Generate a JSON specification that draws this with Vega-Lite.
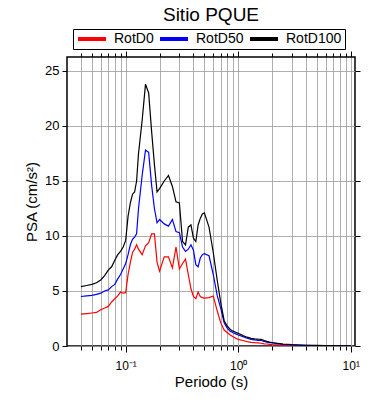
{
  "$schema": "https://vega.github.io/schema/vega-lite/v6.json",
  "autosize": "none",
  "width": 288,
  "height": 289,
  "padding": {"left": 67, "top": 57, "right": 35, "bottom": 54},
  "config": {
    "font": "Liberation Sans",
    "view": {"stroke": "black", "strokeWidth": 1.5},
    "axis": {"domain": false, "tickColor": "black", "labelColor": "black", "titleColor": "black", "gridColor": "#9a9a9a", "gridWidth": 0.8, "labelFont": "Liberation Sans", "titleFont": "Liberation Sans", "titleFontWeight": "normal"}
  },
  "title": {"text": "Sitio PQUE", "fontSize": 19, "fontWeight": "normal", "font": "Liberation Sans", "color": "black", "frame": "group", "anchor": "middle", "baseline": "alphabetic", "offset": -11},
  "data": {"values": [
    {"T":0.04,"s":"RotD0","v":2.9},{"T":0.045,"s":"RotD0","v":2.95},{"T":0.05,"s":"RotD0","v":3.0},{"T":0.055,"s":"RotD0","v":3.05},{"T":0.06,"s":"RotD0","v":3.3},{"T":0.065,"s":"RotD0","v":3.45},{"T":0.07,"s":"RotD0","v":3.6},{"T":0.075,"s":"RotD0","v":4.0},{"T":0.08,"s":"RotD0","v":4.3},{"T":0.085,"s":"RotD0","v":4.55},{"T":0.09,"s":"RotD0","v":4.9},{"T":0.095,"s":"RotD0","v":4.8},{"T":0.1,"s":"RotD0","v":4.85},{"T":0.105,"s":"RotD0","v":6.5},{"T":0.11,"s":"RotD0","v":7.6},{"T":0.115,"s":"RotD0","v":8.5},{"T":0.12,"s":"RotD0","v":8.8},{"T":0.125,"s":"RotD0","v":9.2},{"T":0.13,"s":"RotD0","v":8.8},{"T":0.14,"s":"RotD0","v":8.3},{"T":0.15,"s":"RotD0","v":9.1},{"T":0.16,"s":"RotD0","v":9.4},{"T":0.17,"s":"RotD0","v":10.2},{"T":0.18,"s":"RotD0","v":10.2},{"T":0.19,"s":"RotD0","v":7.6},{"T":0.2,"s":"RotD0","v":6.8},{"T":0.22,"s":"RotD0","v":8.1},{"T":0.24,"s":"RotD0","v":8.1},{"T":0.26,"s":"RotD0","v":7.1},{"T":0.28,"s":"RotD0","v":9.0},{"T":0.3,"s":"RotD0","v":7.0},{"T":0.32,"s":"RotD0","v":7.5},{"T":0.34,"s":"RotD0","v":7.9},{"T":0.36,"s":"RotD0","v":6.5},{"T":0.38,"s":"RotD0","v":5.2},{"T":0.4,"s":"RotD0","v":4.5},{"T":0.42,"s":"RotD0","v":4.3},{"T":0.44,"s":"RotD0","v":4.9},{"T":0.46,"s":"RotD0","v":4.5},{"T":0.48,"s":"RotD0","v":4.4},{"T":0.5,"s":"RotD0","v":4.35},{"T":0.55,"s":"RotD0","v":4.4},{"T":0.6,"s":"RotD0","v":4.55},{"T":0.65,"s":"RotD0","v":3.2},{"T":0.7,"s":"RotD0","v":2.1},{"T":0.75,"s":"RotD0","v":1.45},{"T":0.8,"s":"RotD0","v":1.2},{"T":0.85,"s":"RotD0","v":1.0},{"T":0.9,"s":"RotD0","v":0.85},{"T":0.95,"s":"RotD0","v":0.7},{"T":1.0,"s":"RotD0","v":0.6},{"T":1.1,"s":"RotD0","v":0.5},{"T":1.2,"s":"RotD0","v":0.4},{"T":1.3,"s":"RotD0","v":0.33},{"T":1.4,"s":"RotD0","v":0.3},{"T":1.5,"s":"RotD0","v":0.28},{"T":1.6,"s":"RotD0","v":0.25},{"T":1.7,"s":"RotD0","v":0.2},{"T":1.8,"s":"RotD0","v":0.18},{"T":1.9,"s":"RotD0","v":0.15},{"T":2.0,"s":"RotD0","v":0.13},{"T":2.5,"s":"RotD0","v":0.08},{"T":3.0,"s":"RotD0","v":0.05},{"T":3.5,"s":"RotD0","v":0.04},{"T":4.0,"s":"RotD0","v":0.03},{"T":5.0,"s":"RotD0","v":0.02},{"T":6.0,"s":"RotD0","v":0.015},{"T":7.0,"s":"RotD0","v":0.015},{"T":8.0,"s":"RotD0","v":0.012},{"T":9.0,"s":"RotD0","v":0.01},{"T":10.0,"s":"RotD0","v":0.01},
    {"T":0.04,"s":"RotD50","v":4.5},{"T":0.045,"s":"RotD50","v":4.55},{"T":0.05,"s":"RotD50","v":4.6},{"T":0.055,"s":"RotD50","v":4.7},{"T":0.06,"s":"RotD50","v":4.8},{"T":0.065,"s":"RotD50","v":5.0},{"T":0.07,"s":"RotD50","v":5.1},{"T":0.075,"s":"RotD50","v":5.4},{"T":0.08,"s":"RotD50","v":5.6},{"T":0.085,"s":"RotD50","v":6.1},{"T":0.09,"s":"RotD50","v":6.5},{"T":0.095,"s":"RotD50","v":7.0},{"T":0.1,"s":"RotD50","v":7.5},{"T":0.105,"s":"RotD50","v":8.3},{"T":0.11,"s":"RotD50","v":9.2},{"T":0.115,"s":"RotD50","v":9.7},{"T":0.12,"s":"RotD50","v":9.9},{"T":0.125,"s":"RotD50","v":10.2},{"T":0.13,"s":"RotD50","v":12.5},{"T":0.14,"s":"RotD50","v":15.5},{"T":0.15,"s":"RotD50","v":17.8},{"T":0.16,"s":"RotD50","v":17.6},{"T":0.17,"s":"RotD50","v":14.6},{"T":0.18,"s":"RotD50","v":12.5},{"T":0.19,"s":"RotD50","v":11.2},{"T":0.2,"s":"RotD50","v":11.5},{"T":0.22,"s":"RotD50","v":11.1},{"T":0.24,"s":"RotD50","v":10.9},{"T":0.26,"s":"RotD50","v":11.5},{"T":0.28,"s":"RotD50","v":10.4},{"T":0.3,"s":"RotD50","v":10.3},{"T":0.32,"s":"RotD50","v":9.0},{"T":0.34,"s":"RotD50","v":8.6},{"T":0.36,"s":"RotD50","v":8.8},{"T":0.38,"s":"RotD50","v":9.2},{"T":0.4,"s":"RotD50","v":8.7},{"T":0.42,"s":"RotD50","v":7.4},{"T":0.44,"s":"RotD50","v":7.2},{"T":0.46,"s":"RotD50","v":8.0},{"T":0.48,"s":"RotD50","v":8.3},{"T":0.5,"s":"RotD50","v":8.4},{"T":0.55,"s":"RotD50","v":8.2},{"T":0.6,"s":"RotD50","v":6.5},{"T":0.65,"s":"RotD50","v":4.6},{"T":0.7,"s":"RotD50","v":3.4},{"T":0.75,"s":"RotD50","v":2.1},{"T":0.8,"s":"RotD50","v":1.6},{"T":0.85,"s":"RotD50","v":1.35},{"T":0.9,"s":"RotD50","v":1.2},{"T":0.95,"s":"RotD50","v":1.1},{"T":1.0,"s":"RotD50","v":1.0},{"T":1.1,"s":"RotD50","v":0.85},{"T":1.2,"s":"RotD50","v":0.7},{"T":1.3,"s":"RotD50","v":0.6},{"T":1.4,"s":"RotD50","v":0.55},{"T":1.5,"s":"RotD50","v":0.52},{"T":1.6,"s":"RotD50","v":0.5},{"T":1.7,"s":"RotD50","v":0.42},{"T":1.8,"s":"RotD50","v":0.35},{"T":1.9,"s":"RotD50","v":0.3},{"T":2.0,"s":"RotD50","v":0.27},{"T":2.5,"s":"RotD50","v":0.15},{"T":3.0,"s":"RotD50","v":0.1},{"T":3.5,"s":"RotD50","v":0.075},{"T":4.0,"s":"RotD50","v":0.06},{"T":5.0,"s":"RotD50","v":0.04},{"T":6.0,"s":"RotD50","v":0.03},{"T":7.0,"s":"RotD50","v":0.025},{"T":8.0,"s":"RotD50","v":0.02},{"T":9.0,"s":"RotD50","v":0.015},{"T":10.0,"s":"RotD50","v":0.015},
    {"T":0.04,"s":"RotD100","v":5.4},{"T":0.045,"s":"RotD100","v":5.5},{"T":0.05,"s":"RotD100","v":5.6},{"T":0.055,"s":"RotD100","v":5.75},{"T":0.06,"s":"RotD100","v":6.0},{"T":0.065,"s":"RotD100","v":6.4},{"T":0.07,"s":"RotD100","v":6.9},{"T":0.075,"s":"RotD100","v":7.2},{"T":0.08,"s":"RotD100","v":7.8},{"T":0.085,"s":"RotD100","v":8.3},{"T":0.09,"s":"RotD100","v":8.6},{"T":0.095,"s":"RotD100","v":9.0},{"T":0.1,"s":"RotD100","v":9.6},{"T":0.105,"s":"RotD100","v":11.8},{"T":0.11,"s":"RotD100","v":13.0},{"T":0.115,"s":"RotD100","v":13.8},{"T":0.12,"s":"RotD100","v":14.0},{"T":0.125,"s":"RotD100","v":15.0},{"T":0.13,"s":"RotD100","v":17.5},{"T":0.14,"s":"RotD100","v":20.5},{"T":0.15,"s":"RotD100","v":23.8},{"T":0.16,"s":"RotD100","v":23.0},{"T":0.17,"s":"RotD100","v":19.5},{"T":0.18,"s":"RotD100","v":16.5},{"T":0.19,"s":"RotD100","v":14.0},{"T":0.2,"s":"RotD100","v":14.3},{"T":0.22,"s":"RotD100","v":15.0},{"T":0.24,"s":"RotD100","v":15.5},{"T":0.26,"s":"RotD100","v":14.5},{"T":0.28,"s":"RotD100","v":13.1},{"T":0.3,"s":"RotD100","v":13.0},{"T":0.32,"s":"RotD100","v":9.5},{"T":0.34,"s":"RotD100","v":9.2},{"T":0.36,"s":"RotD100","v":10.8},{"T":0.38,"s":"RotD100","v":11.0},{"T":0.4,"s":"RotD100","v":9.8},{"T":0.42,"s":"RotD100","v":9.5},{"T":0.44,"s":"RotD100","v":11.0},{"T":0.46,"s":"RotD100","v":11.6},{"T":0.48,"s":"RotD100","v":12.0},{"T":0.5,"s":"RotD100","v":12.1},{"T":0.55,"s":"RotD100","v":10.8},{"T":0.6,"s":"RotD100","v":8.5},{"T":0.65,"s":"RotD100","v":6.0},{"T":0.7,"s":"RotD100","v":3.9},{"T":0.75,"s":"RotD100","v":2.3},{"T":0.8,"s":"RotD100","v":1.8},{"T":0.85,"s":"RotD100","v":1.5},{"T":0.9,"s":"RotD100","v":1.35},{"T":0.95,"s":"RotD100","v":1.25},{"T":1.0,"s":"RotD100","v":1.15},{"T":1.1,"s":"RotD100","v":0.95},{"T":1.2,"s":"RotD100","v":0.8},{"T":1.3,"s":"RotD100","v":0.7},{"T":1.4,"s":"RotD100","v":0.65},{"T":1.5,"s":"RotD100","v":0.62},{"T":1.6,"s":"RotD100","v":0.6},{"T":1.7,"s":"RotD100","v":0.5},{"T":1.8,"s":"RotD100","v":0.42},{"T":1.9,"s":"RotD100","v":0.36},{"T":2.0,"s":"RotD100","v":0.32},{"T":2.5,"s":"RotD100","v":0.18},{"T":3.0,"s":"RotD100","v":0.12},{"T":3.5,"s":"RotD100","v":0.09},{"T":4.0,"s":"RotD100","v":0.07},{"T":5.0,"s":"RotD100","v":0.05},{"T":6.0,"s":"RotD100","v":0.04},{"T":7.0,"s":"RotD100","v":0.03},{"T":8.0,"s":"RotD100","v":0.025},{"T":9.0,"s":"RotD100","v":0.02},{"T":10.0,"s":"RotD100","v":0.02}
  ]},
  "resolve": {"axis": {"x": "independent", "y": "independent"}},
  "layer": [
    {
      "mark": {"type": "line", "strokeWidth": 1.2, "clip": true},
      "encoding": {
        "x": {"field": "T", "type": "quantitative",
          "scale": {"type": "log", "domain": [0.0301, 10.9], "nice": false},
          "axis": {"orient": "bottom", "title": "Periodo (s)", "titleFontSize": 15, "titlePadding": 3,
            "values": [0.04,0.05,0.06,0.07,0.08,0.09,0.1,0.2,0.3,0.4,0.5,0.6,0.7,0.8,0.9,1,2,3,4,5,6,7,8,9,10],
            "grid": true, "tickSize": {"condition": {"test": "datum.value == 0.1 || datum.value == 1 || datum.value == 10", "value": 6}, "value": 4},
            "labelExpr": "datum.value == 0.1 ? '10⁻¹' : datum.value == 1 ? '10⁰' : datum.value == 10 ? '10¹' : ''",
            "labelFontSize": 12, "labelPadding": 8, "labelOverlap": false, "labelFlush": false}},
        "y": {"field": "v", "type": "quantitative",
          "scale": {"domain": [0, 26.27], "nice": false},
          "axis": {"orient": "left", "title": "PSA (cm/s²)", "titleFontSize": 15, "titlePadding": 5,
            "values": [0,5,10,15,20,25], "grid": true, "tickSize": 5, "labelFontSize": 13, "labelPadding": 3}},
        "color": {"field": "s", "type": "nominal",
          "scale": {"domain": ["RotD0","RotD50","RotD100"], "range": ["#ff0000","#0000ff","#000000"]},
          "legend": {"orient": "none", "legendX": 6, "legendY": -28, "direction": "horizontal", "title": null,
            "strokeColor": "black", "padding": 3, "symbolType": "stroke", "symbolStrokeWidth": 4, "symbolSize": 784, "clipHeight": 14,
            "labelFontSize": 14, "labelFont": "Liberation Sans", "labelColor": "black", "columnPadding": 4, "labelOffset": 6}}
      }
    },
    {
      "mark": {"type": "line", "strokeOpacity": 0},
      "encoding": {
        "x": {"field": "T", "type": "quantitative",
          "axis": {"orient": "top", "title": null, "labels": false, "grid": false,
            "values": [0.04,0.05,0.06,0.07,0.08,0.09,0.1,0.2,0.3,0.4,0.5,0.6,0.7,0.8,0.9,1,2,3,4,5,6,7,8,9,10],
            "tickSize": {"condition": {"test": "datum.value == 0.1 || datum.value == 1 || datum.value == 10", "value": 6}, "value": 4}}},
        "y": {"field": "v", "type": "quantitative",
          "axis": {"orient": "right", "title": null, "labels": false, "grid": false, "values": [0,5,10,15,20,25], "tickSize": 5}},
        "detail": {"field": "s"}
      }
    }
  ]
}
